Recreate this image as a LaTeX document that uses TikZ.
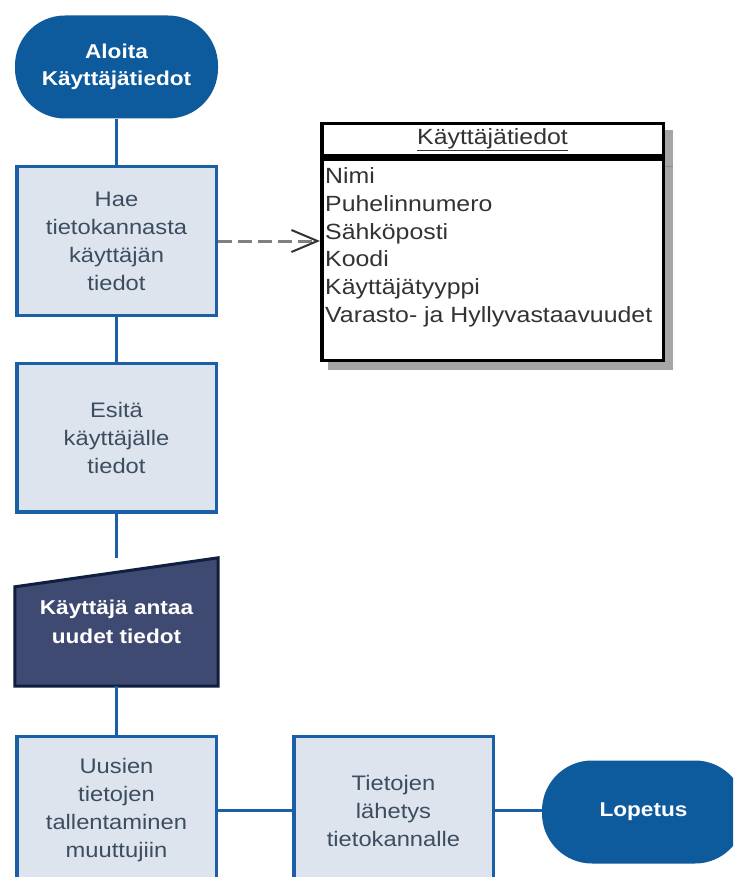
\documentclass[tikz,border=0pt]{standalone}
\usepackage{fontspec}
\setmainfont{Liberation Sans}[FakeStretch=1.13]
\usetikzlibrary{arrows.meta,backgrounds}

\definecolor{termblue}{RGB}{13,90,157}
\definecolor{boxfill}{RGB}{221,228,238}
\definecolor{boxline}{RGB}{27,95,166}
\definecolor{boxtext}{RGB}{60,77,96}
\definecolor{inputfill}{RGB}{63,74,114}
\definecolor{inputline}{RGB}{15,31,61}
\definecolor{classtext}{RGB}{51,51,51}
\definecolor{shadowgray}{RGB}{166,166,166}
\definecolor{seamgray}{RGB}{140,140,140}
\definecolor{depgray}{RGB}{128,128,128}
\definecolor{deptip}{RGB}{51,51,51}

\begin{document}
\begin{tikzpicture}[x=1pt,y=-1pt,
  terminal/.style={rectangle, rounded corners=50pt, fill=termblue, text=white,
    minimum width=203pt, minimum height=103pt, inner sep=0pt, align=center,
    font=\fontsize{20}{27}\selectfont\bfseries},
  process/.style={rectangle, draw=boxline, line width=3.5pt, fill=boxfill, text=boxtext,
    minimum width=199.5pt, minimum height=148.5pt, inner sep=0pt, align=center,
    font=\fontsize{21}{28}\selectfont},
  inputnode/.style={rectangle, minimum width=203pt, minimum height=128pt, inner sep=0pt,
    align=center, text=white, font=\fontsize{20}{29}\selectfont\bfseries},
  inputshape/.style={fill=inputfill, draw=inputline, line width=3pt, line join=miter},
  flow/.style={draw=boxline, line width=3.5pt},
  classbox/.style={rectangle, draw=black, line width=3.5pt, fill=white, inner sep=0pt,
    minimum width=341.5pt, text=classtext, font=\fontsize{22}{27.8}\selectfont},
  attr/.style={anchor=base west, inner sep=0pt, text=classtext,
    font=\fontsize{22}{27.8}\selectfont},
  dep/.style={draw=depgray, line width=3pt, dash pattern=on 14pt off 6pt,
    -{Straight Barb[length=26pt,width=22pt,line width=2pt,color=deptip]}}
]
\useasboundingbox (0,0) rectangle (733,877);
\clip (0,0) rectangle (733,877);

% main flow
\node[terminal] (start) at (116.5,67) {Aloita\\Käyttäjätiedot};
\node[process] (fetch) at (116.5,241) {Hae\\tietokannasta\\käyttäjän\\tiedot};
\node[process] (show) at (116.5,437.5) {Esitä\\käyttäjälle\\tiedot};
\node[inputnode] (input) at (116.5,622) {Käyttäjä antaa\\uudet tiedot};
\node[process] (store) at (116.5,810.5) {Uusien\\tietojen\\tallentaminen\\muuttujiin};
\node[process] (send) at (393.5,810.5) {Tietojen\\lähetys\\tietokannalle};
\node[terminal] (end) at (643.5,812) {Lopetus};

% manual input outline with slanted top edge
\begin{scope}[on background layer]
  \filldraw[inputshape] (input.south west) -- (input.south east) -- (input.north east)
    -- ([yshift=-29pt]input.north west) -- cycle;
\end{scope}

\draw[flow] (start) -- (fetch);
\draw[flow] (fetch) -- (show);
\draw[flow] (show) -- (input);
\draw[flow] (input) -- (store);
\draw[flow] (store) -- (send);
\draw[flow] (send.east) -- (send.east -| end.west);

% class box with drop shadow
\fill[shadowgray] (328,130) rectangle (673,370);
\draw[seamgray, line width=1pt] (665,166.5) -- (673,166.5);
\node[classbox, minimum height=32.5pt] (clshead) at (492.5,140) {\underline{Käyttäjätiedot}};
\node[classbox, minimum height=200.5pt] (clsbody) at (492.5,260) {};
\node[attr] (a1) at (325,183.5) {Nimi};
\node[attr] (a2) at (325,211.3) {Puhelinnumero};
\node[attr] (a3) at (325,239.1) {Sähköposti};
\node[attr] (a4) at (325,266.9) {Koodi};
\node[attr] (a5) at (325,294.7) {Käyttäjätyyppi};
\node[attr] (a6) at (325,322.5) {Varasto- ja Hyllyvastaavuudet};

% dependency from the fetch step to the class
\draw[dep] (fetch.east) -- (fetch.east -| clsbody.west);
\end{tikzpicture}
\end{document}
